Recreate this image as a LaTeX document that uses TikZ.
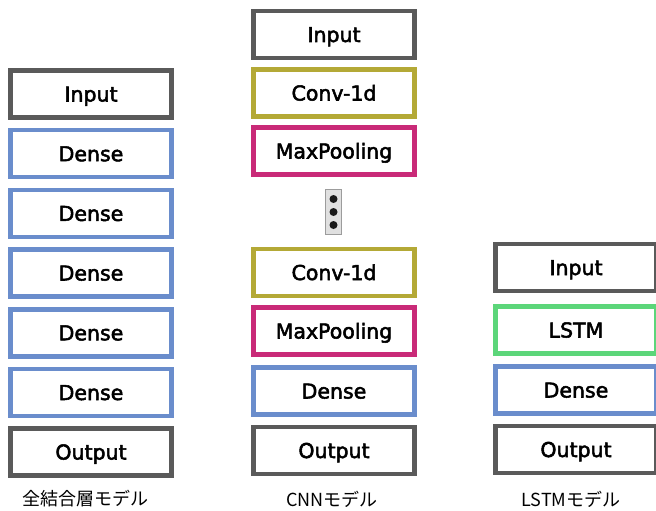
\documentclass[tikz,border=0pt]{standalone}
\usepackage{fontspec}
\setmainfont{Noto Sans CJK JP}
\newfontfamily\layerfont{DejaVu Sans}[FakeBold=2.5]
\usetikzlibrary{positioning,calc}

\definecolor{framegray}{HTML}{5A5A5A}
\definecolor{denseblue}{HTML}{6A8DCC}
\definecolor{convolive}{HTML}{B4A936}
\definecolor{poolmagenta}{HTML}{C92A78}
\definecolor{lstmgreen}{HTML}{5CD67A}

\begin{document}
\begin{tikzpicture}[x=1pt,y=-1pt,
	layer/.style={draw, line width=4.5pt, fill=white, minimum width=161pt,
		minimum height=47pt, inner sep=0pt, text height=15pt, text depth=0pt,
		font=\fontsize{20.5}{20.5}\layerfont},
	io/.style={layer, draw=framegray},
	dense/.style={layer, draw=denseblue},
	conv/.style={layer, draw=convolive},
	pool/.style={layer, draw=poolmagenta},
	lstm/.style={layer, draw=lstmgreen},
	caption/.style={font=\fontsize{18}{18}\selectfont}]

	\useasboundingbox (0,0) rectangle (656,511);

	% fully connected model
	\node[io]    (fcin) at (91,94)    {Input};
	\node[dense] (fc1)  at (91,153.7) {Dense};
	\node[dense] (fc2)  at (91,213.4) {Dense};
	\node[dense] (fc3)  at (91,273)   {Dense};
	\node[dense] (fc4)  at (91,332.8) {Dense};
	\node[dense] (fc5)  at (91,392.5) {Dense};
	\node[io]    (fcout) at (91,452)  {Output};
	\node[caption] (fccap) at (85,499) {全結合層モデル};

	% CNN model
	\node[io]   (cnnin)  at (334,34.5) {Input};
	\node[conv] (cnnc1)  at (334,93)   {Conv-1d};
	\node[pool] (cnnp1)  at (334,151)  {MaxPooling};
	\node[draw=framegray!60, fill=black!12, line width=0.8pt, minimum width=16pt,
		minimum height=45pt, inner sep=0pt] (cnndots) at (333.5,212) {};
	\foreach \dy in {-13,0,13}
		\fill[black!90] ($(cnndots)+(0,\dy)$) circle[radius=4pt];
	\node[conv]  (cnnc2)  at (334,272.5) {Conv-1d};
	\node[pool]  (cnnp2)  at (334,331)   {MaxPooling};
	\node[dense] (cnnd)   at (334,391)   {Dense};
	\node[io]    (cnnout) at (334,450.5) {Output};
	\node[caption] (cnncap) at (332,499) {CNNモデル};

	% LSTM model
	\node[io]    (lstmin)  at (576,267.5) {Input};
	\node[lstm]  (lstml)   at (576,330)   {LSTM};
	\node[dense] (lstmd)   at (576,390)   {Dense};
	\node[io]    (lstmout) at (576,449.5) {Output};
	\node[caption] (lstmcap) at (571,499) {LSTMモデル};

\end{tikzpicture}
\end{document}
